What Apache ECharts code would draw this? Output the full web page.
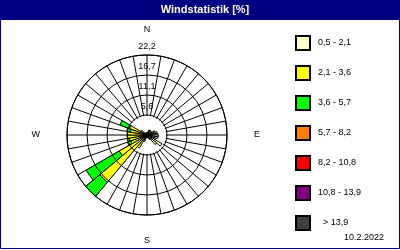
<!DOCTYPE html>
<html>
<head>
<meta charset="utf-8">
<script src="https://cdn.jsdelivr.net/npm/echarts@6/dist/echarts.min.js"></script>
<style>
html,body{margin:0;padding:0;background:#fff;}
#c{width:400px;height:250px;}
</style>
</head>
<body>
<div id="c"></div>
<script>
// 36 direction sectors (bearing centers 5°,15°,...,355°)
var directions = [];
for (var d = 5; d < 360; d += 10) directions.push(String(d));

var compassLabels = ['N', 'E', 'S', 'W'];
var ringLabels = ['5,6', '11,1', '16,7', '22,2'];
var ringMax = 22.2;
var ringStep = 5.55;

var classNames = ['0,5 - 2,1', '2,1 - 3,6', '3,6 - 5,7', '5,7 - 8,2', '8,2 - 10,8', '10,8 - 13,9', '\u00a0\u00a0> 13,9'];
var classColors = ['#FFFFCC', '#FFFF00', '#00FF00', '#FF8000', '#FF0000', '#800080', '#404040'];

// percent values per sector, per speed class
var cls1 = [0.8,0.8,1.5,1.6,1.2,1.5,2.4,2.8,3.0,3.2,3.0,2.5,4.8,3.5,1.5,1.0,0.8,0.6,0.6,0.8,1.0,1.2,1.2,1.2,1.2,1.2,1.2,1.2,1.2,1.2,1.0,0.8,0.6,0.6,0.6,0.6];
var cls2 = [0,0,0,0,0,0,0,0,0,0,0,0,0,0,0,0,0,0,0,0,1.0,3.0,15.9,7.7,3.6,3.8,4.2,4.2,3.5,4.0,1.0,0,0,0,0,0];
var cls3 = [0,0,0,0,0,0,0,0,0,0,0,0,0,0,0,0,0,0,0,0,0,0,5.1,10.6,1.0,0.5,0,0,1.0,2.8,0,0,0,0,0,0];
var cls4 = [0,0,0,0,0,0,0,0,0,0,0,0,0,0,0,0,0,0,0,0,0,0,0,0,0,0,0,0,0,0,0,0,0,0,0,0];
var cls5 = [0,0,0,0,0,0,0,0,0,0,0,0,0,0,0,0,0,0,0,0,0,0,0,0,0,0,0,0,0,0,0,0,0,0,0,0];
var cls6 = [0,0,0,0,0,0,0,0,0,0,0,0,0,0,0,0,0,0,0,0,0,0,0,0,0,0,0,0,0,0,0,0,0,0,0,0];
var cls7 = [0,0,0,0,0,0,0,0,0,0,0,0,0,0,0,0,0,0,0,0,0,0,0,0,0,0,0,0,0,0,0,0,0,0,0,0];

var titleText = 'Windstatistik [%]';
var dateText = '10.2.2022';

var FONT = '"Liberation Sans", Arial, sans-serif';
var classData = [cls1, cls2, cls3, cls4, cls5, cls6, cls7];

var series = classData.map(function (arr, i) {
  return {
    name: classNames[i],
    type: 'bar',
    coordinateSystem: 'polar',
    polarIndex: 0,
    stack: 'wind',
    barCategoryGap: '0%',
    z: 3,
    silent: true,
    itemStyle: { color: classColors[i], borderColor: '#000', borderWidth: 1 },
    data: arr.map(function (v) { return v > 0 ? v : '-'; })
  };
});

// white calm disc (no spokes inside the first ring)
series.push({
  type: 'pie',
  center: [147, 135],
  radius: [0, 19],
  silent: true,
  z: 1,
  label: { show: false },
  labelLine: { show: false },
  itemStyle: { color: '#fff', borderWidth: 0 },
  data: [{ value: 1, name: 'calm' }]
});

var chart = echarts.init(document.getElementById('c'), null, { renderer: 'canvas' });
chart.setOption({
  animation: false,
  backgroundColor: '#fff',
  textStyle: { fontFamily: FONT },
  polar: [
    { center: [147, 135], radius: 80 },
    { center: [147, 135], radius: 80 }
  ],
  angleAxis: [
    {
      polarIndex: 0,
      type: 'category',
      data: directions,
      startAngle: 90,
      clockwise: true,
      boundaryGap: true,
      axisLine: { show: true, lineStyle: { color: '#000', width: 1 } },
      axisTick: { show: false, interval: 0 },
      axisLabel: { show: false, interval: 0 },
      splitLine: { show: true, interval: 0, lineStyle: { color: '#000', width: 1 } },
      z: 0
    },
    {
      polarIndex: 1,
      type: 'category',
      data: compassLabels,
      startAngle: 90,
      clockwise: true,
      boundaryGap: false,
      axisLine: { show: false },
      axisTick: { show: false },
      splitLine: { show: false },
      axisLabel: {
        show: true, margin: 21, fontSize: 9, color: '#000', fontFamily: FONT,
        formatter: function (v) { return (v === 'E' || v === 'W') ? '{h|' + v + '}' : v; },
        rich: { h: { padding: [0, 6, 0, 6], fontSize: 9, color: '#000', fontFamily: FONT } }
      }
    }
  ],
  radiusAxis: [
    {
      polarIndex: 0,
      type: 'value',
      min: 0,
      max: ringMax,
      interval: ringStep,
      axisLine: { show: false },
      axisTick: { show: false },
      splitLine: { show: true, lineStyle: { color: '#000', width: 1 } },
      axisLabel: {
        show: true,
        fontSize: 9,
        color: '#000',
        fontFamily: FONT,
        margin: 0,
        align: 'center',
        verticalAlign: 'bottom',
        padding: [0, 0, 4, 0],
        formatter: function (v) {
          var k = Math.round(v / ringStep);
          return k > 0 ? ringLabels[k - 1] : '';
        }
      },
      z: 4
    },
    { polarIndex: 1, type: 'value', min: 0, max: 1, show: false }
  ],
  legend: {
    orient: 'vertical',
    left: 295,
    top: 35,
    padding: 0,
    itemWidth: 14,
    itemHeight: 14,
    itemGap: 14,
    icon: 'rect',
    selectedMode: false,
    data: classNames,
    textStyle: { fontSize: 9, color: '#000', fontFamily: FONT, padding: [0, 0, 0, 3] }
  },
  graphic: [
    { type: 'rect', shape: { x: 0, y: 0, width: 400, height: 20 }, style: { fill: '#000080' }, z: 10 },
    { type: 'text', x: 205, y: 10, style: { text: titleText, fill: '#fff', font: 'bold 11px ' + FONT, textAlign: 'center', textVerticalAlign: 'middle' }, z: 11 },
    { type: 'rect', shape: { x: 0.5, y: 0.5, width: 399, height: 248 }, style: { fill: 'none', stroke: '#000080', lineWidth: 1 }, z: 10 },
    { type: 'text', right: 16, top: 233, style: { text: dateText, fill: '#000', font: '9px ' + FONT }, z: 11 }
  ],
  series: series
});
</script>
</body>
</html>
